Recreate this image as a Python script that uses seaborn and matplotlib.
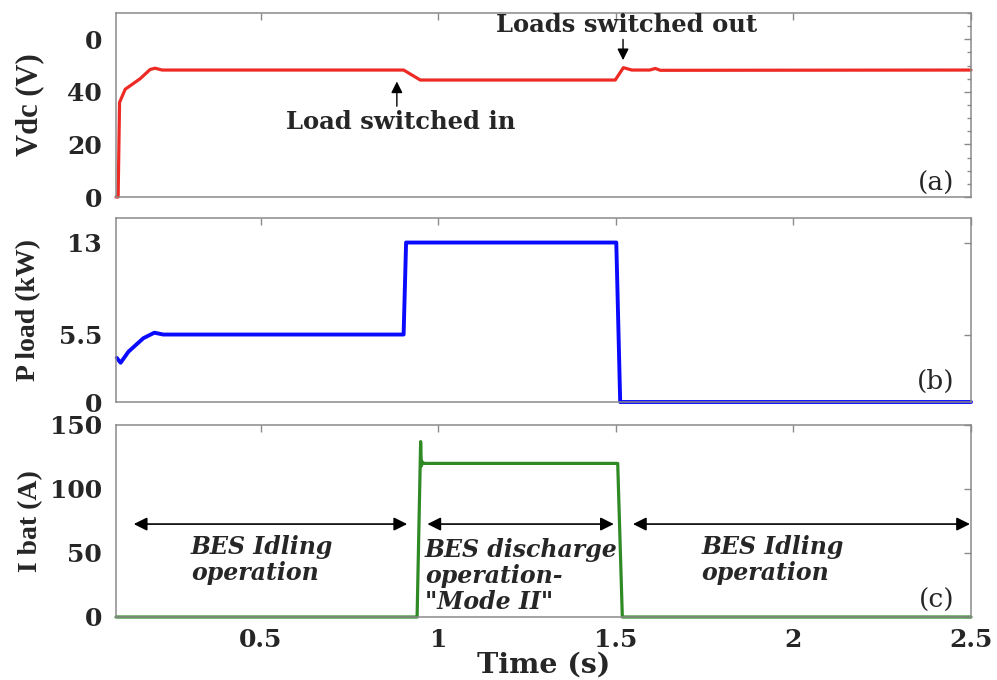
import matplotlib
matplotlib.use("Agg")
import matplotlib.pyplot as plt
from matplotlib.ticker import MultipleLocator, FixedLocator, NullFormatter
import seaborn as sns
import pandas as pd

# ---------------- data ----------------
vdc_t = [0.092, 0.098, 0.102, 0.118, 0.160, 0.188, 0.202, 0.222, 0.902, 0.949,
         1.498, 1.521, 1.545, 1.595, 1.611, 1.625, 2.5]
vdc_v = [0, 0, 36, 41, 45, 48.5, 49, 48.3, 48.3, 44.5,
         44.5, 49.2, 48.3, 48.3, 48.9, 48.2, 48.3]

pload_t = [0.094, 0.105, 0.127, 0.169, 0.200, 0.225, 0.902, 0.909, 1.501, 1.512, 2.5]
pload_v = [3.6, 3.2, 4.1, 5.2, 5.65, 5.5, 5.5, 13.0, 13.0, 0, 0]

ibat_t = [0.092, 0.940, 0.950, 0.952, 0.955, 0.960, 1.505, 1.518, 2.5]
ibat_v = [0, 0, 137, 118, 121, 120, 120, 0, 0]

x_ticks = [0.5, 1, 1.5, 2, 2.5]
x_tick_labels = ["0.5", "1", "1.5", "2", "2.5"]
vdc_ticks = [0, 20, 40, 60]
vdc_tick_labels = ["0", "20", "40", "0"]
pload_ticks = [0, 5.5, 13]
pload_tick_labels = ["0", "5.5", "13"]
ibat_ticks = [0, 50, 100, 150]
ibat_tick_labels = ["0", "50", "100", "150"]

ylabels = ["Vdc (V)", "P load (kW)", "I bat (A)"]
panel_tags = ["(a)", "(b)", "(c)"]
xlabel = "Time (s)"

# ---------------- style ----------------
sns.set_theme(style="white")
plt.rcParams["font.family"] = ["DejaVu Serif"]
plt.rcParams["font.weight"] = "bold"

W, H = 997, 680
fig = plt.figure(figsize=(W / 100, H / 100), dpi=100)


def px_axes(left, top, right, bottom):
    return fig.add_axes([left / W, 1 - bottom / H, (right - left) / W, (bottom - top) / H])


ax_a = px_axes(116, 13, 971, 197)
ax_b = px_axes(116, 218, 971, 402)
ax_c = px_axes(116, 425, 971, 617)

XLIM = (0.092, 2.5)
spine_col = "#8a8a8a"

df_a = pd.DataFrame({"t": vdc_t, "v": vdc_v})
df_b = pd.DataFrame({"t": pload_t, "v": pload_v})
df_c = pd.DataFrame({"t": ibat_t, "v": ibat_v})

sns.lineplot(data=df_a, x="t", y="v", ax=ax_a, color="#ee2a24", lw=2.3,
             estimator=None, sort=False, clip_on=False)
sns.lineplot(data=df_b, x="t", y="v", ax=ax_b, color="#0a0aff", lw=2.8,
             estimator=None, sort=False, clip_on=False)
sns.lineplot(data=df_c, x="t", y="v", ax=ax_c, color="#2f8a25", lw=2.3,
             estimator=None, sort=False, clip_on=False)

ylims = [(0, 70), (0, 15), (0, 150)]
yt = [vdc_ticks, pload_ticks, ibat_ticks]
ytl = [vdc_tick_labels, pload_tick_labels, ibat_tick_labels]
label_y = [0.075, 0.11, 0.089]
ylabel_sizes = [22, 20, 20]
ylabel_x = [-0.101, -0.102, -0.100]

for i, ax in enumerate([ax_a, ax_b, ax_c]):
    ax.set_xlim(*XLIM)
    ax.set_ylim(*ylims[i])
    ax.xaxis.set_major_locator(FixedLocator(x_ticks))
    ax.set_yticks(yt[i])
    ax.set_yticklabels(ytl[i])
    if i < 2:
        ax.xaxis.set_major_formatter(NullFormatter())
        ax.set_xlabel("")
    else:
        ax.set_xticklabels(x_tick_labels)
        ax.set_xlabel(xlabel, fontsize=20.5, fontweight="bold", labelpad=0)
    for s in ax.spines.values():
        s.set_visible(True)
        s.set_color(spine_col)
        s.set_linewidth(1.1)
    ax.tick_params(which="both", direction="in", top=True, right=True,
                   color=spine_col, width=1.0)
    ax.tick_params(which="major", length=5, labelsize=18, pad=10)
    ax.tick_params(axis="x", which="major", pad=8)
    ax.tick_params(which="minor", length=3)
    for lab in ax.get_xticklabels() + ax.get_yticklabels():
        lab.set_fontweight("bold")
    ax.set_ylabel(ylabels[i], fontsize=ylabel_sizes[i], fontweight="bold",
                  va="center", family=["Liberation Serif", "DejaVu Serif"])
    ax.yaxis.set_label_coords(ylabel_x[i], 0.5)
    ax.text(0.981, label_y[i], panel_tags[i], transform=ax.transAxes,
            ha="right", va="center", fontsize=19, fontweight="normal")
    ax.grid(False)

ax_a.yaxis.set_minor_locator(MultipleLocator(5))
ax_c.xaxis.labelpad = 0

# ---------------- annotations ----------------
arrow_kw = dict(arrowstyle="-|>", color="black", lw=1.0, mutation_scale=17)

ax_a.annotate("", xy=(0.883, 45.0), xytext=(0.883, 33.5), arrowprops=arrow_kw)
ax_a.text(0.895, 28.6, "Load switched in", ha="center", va="center",
          fontsize=17.5, fontweight="bold")

ax_a.annotate("", xy=(1.52, 51.0), xytext=(1.52, 61.0), arrowprops=arrow_kw)
ax_a.text(1.53, 65.6, "Loads switched out", ha="center", va="center",
          fontsize=17.5, fontweight="bold")

dbl_kw = dict(arrowstyle="<|-|>", color="black", lw=1.2, mutation_scale=20,
              shrinkA=0, shrinkB=0)
ax_c.annotate("", xy=(0.142, 72.6), xytext=(0.912, 72.6), arrowprops=dbl_kw)
ax_c.annotate("", xy=(0.969, 72.6), xytext=(1.494, 72.6), arrowprops=dbl_kw)
ax_c.annotate("", xy=(1.548, 72.6), xytext=(2.497, 72.6), arrowprops=dbl_kw)

txt_kw = dict(fontsize=17, fontweight="bold", fontstyle="italic",
              ha="left", va="top", linespacing=1.1)
ax_c.text(0.303, 64.0, "BES Idling\noperation", **txt_kw)
ax_c.text(0.962, 61.5, "BES discharge\noperation-\n\"Mode II\"", **txt_kw)
ax_c.text(1.741, 64.0, "BES Idling\noperation", **txt_kw)

fig.savefig("out.png", dpi=100)
